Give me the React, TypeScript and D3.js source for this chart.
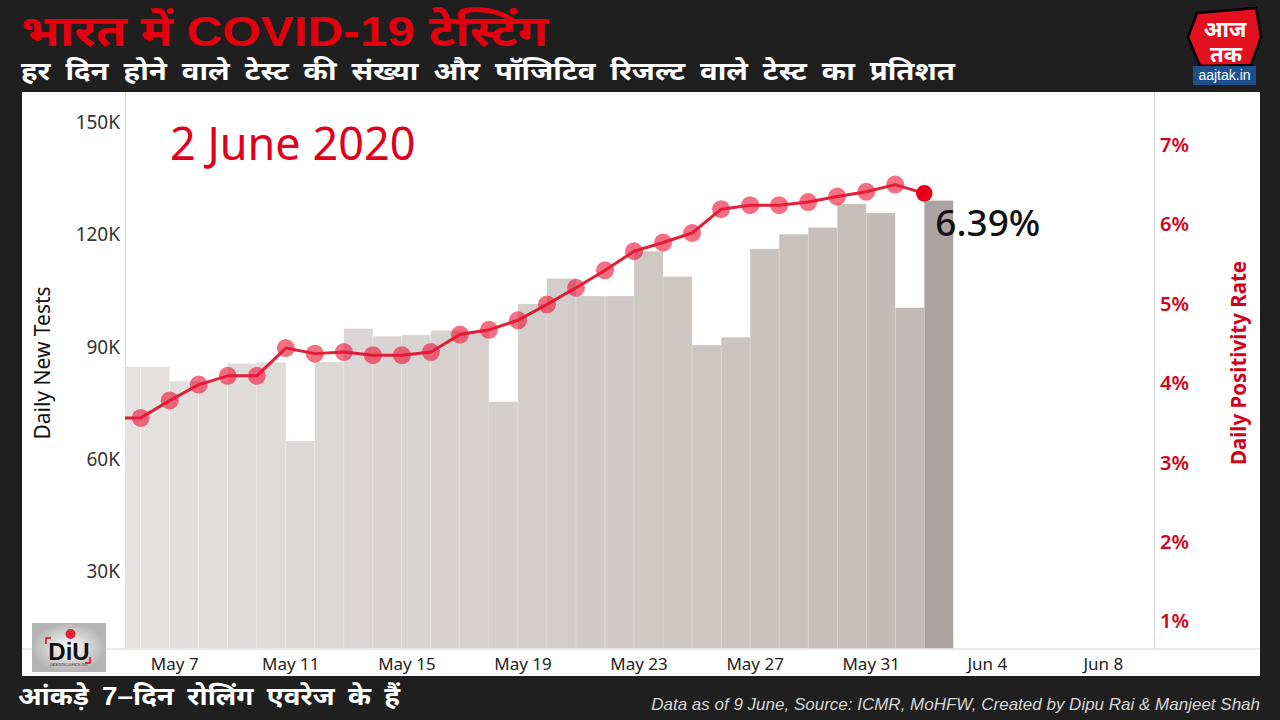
import React, { useRef, useEffect } from 'react';
import * as d3 from 'd3';

// daily figures, May 5 .. Jun 2 2020
const days = [
  '2020-05-05', '2020-05-06', '2020-05-07', '2020-05-08', '2020-05-09', '2020-05-10',
  '2020-05-11', '2020-05-12', '2020-05-13', '2020-05-14', '2020-05-15', '2020-05-16',
  '2020-05-17', '2020-05-18', '2020-05-19', '2020-05-20', '2020-05-21', '2020-05-22',
  '2020-05-23', '2020-05-24', '2020-05-25', '2020-05-26', '2020-05-27', '2020-05-28',
  '2020-05-29', '2020-05-30', '2020-05-31', '2020-06-01', '2020-06-02',
];
const dailyTests = [
  84700, 84700, 80900, 80900, 85600, 85900, 64900, 86000, 94900, 92900,
  93200, 94400, 94400, 75400, 101500, 108300, 103600, 103600, 115600, 108800,
  90500, 92600, 116200, 120100, 121900, 128200, 125800, 100500, 129100,
];
const positivity = [
  3.56, 3.56, 3.78, 3.98, 4.09, 4.09, 4.44, 4.37, 4.39, 4.35,
  4.35, 4.39, 4.61, 4.67, 4.79, 4.99, 5.2, 5.42, 5.66, 5.77,
  5.89, 6.19, 6.24, 6.24, 6.28, 6.35, 6.41, 6.5, 6.39,
];
const testTicks = [30000, 60000, 90000, 120000, 150000];
const rateTicks = [1, 2, 3, 4, 5, 6, 7];
const dateTicks = ['2020-05-07', '2020-05-11', '2020-05-15', '2020-05-19', '2020-05-23', '2020-05-27', '2020-05-31', '2020-06-04', '2020-06-08'];

const parse = d3.timeParse('%Y-%m-%d');
const fmtTick = d3.timeFormat('%b %-d');

const W = 1280;
const H = 720;
const plot = { left: 125, right: 1154, top: 92, bottom: 648.5 };
const RED = '#e0001b';
const AXIS_FONT = "'Noto Sans', 'Open Sans', sans-serif";
const HINDI_FONT = "'Liberation Sans', 'Noto Sans', sans-serif";

export default function App() {
  const svgEl = useRef(null);

  useEffect(() => {
    const svg = d3.select(svgEl.current);
    svg.selectAll('*').remove();

    const data = days.map((d, i) => ({ date: parse(d), tests: dailyTests[i], rate: positivity[i] }));

    const x = d3
      .scaleTime()
      .domain([new Date(2020, 4, 5, 11), new Date(2020, 5, 9, 22)])
      .range([plot.left, plot.right]);
    const yTests = d3.scaleLinear().domain([9480, 158080]).range([plot.bottom, plot.top]);
    const yRate = d3.scaleLinear().domain([0.654, 7.667]).range([plot.bottom, plot.top]);
    const barColor = d3
      .scaleTime()
      .domain([data[0].date, data[data.length - 2].date])
      .range(['#e5e2e1', '#c3bbb7'])
      .interpolate(d3.interpolateRgb);

    // background + white panel
    svg.append('rect').attr('width', W).attr('height', H).attr('fill', '#1f1f1f');
    svg.append('rect').attr('x', 22).attr('y', 92).attr('width', 1238).attr('height', 584).attr('fill', '#fff');

    const defs = svg.append('defs');
    defs.append('clipPath').attr('id', 'plotClip')
      .append('rect')
      .attr('x', plot.left).attr('y', plot.top)
      .attr('width', plot.right - plot.left).attr('height', plot.bottom - plot.top);
    const grad = defs.append('radialGradient').attr('id', 'diuGrad');
    grad.append('stop').attr('offset', '0%').attr('stop-color', '#ffffff');
    grad.append('stop').attr('offset', '100%').attr('stop-color', '#b4b4b4');

    // pane separators
    const sep = svg.append('g').attr('stroke', '#d6d6d6').attr('stroke-width', 1);
    sep.append('line').attr('x1', plot.left + 0.5).attr('x2', plot.left + 0.5).attr('y1', plot.top).attr('y2', plot.bottom);
    sep.append('line').attr('x1', plot.right + 0.5).attr('x2', plot.right + 0.5).attr('y1', plot.top).attr('y2', plot.bottom);
    sep.append('line').attr('x1', 22).attr('x2', 1260).attr('y1', plot.bottom + 0.5).attr('y2', plot.bottom + 0.5);

    const chart = svg.append('g').attr('clip-path', 'url(#plotClip)');

    // bars: each day spans from its date to the next day
    chart
      .selectAll('rect.bar')
      .data(data)
      .enter()
      .append('rect')
      .attr('class', 'bar')
      .attr('x', (d) => x(d.date))
      .attr('width', (d) => x(d3.timeDay.offset(d.date, 1)) - x(d.date))
      .attr('y', (d) => yTests(d.tests))
      .attr('height', (d) => plot.bottom - yTests(d.tests))
      .attr('fill', (d, i) => (i === data.length - 1 ? '#aaa3a2' : barColor(d.date)))
      .attr('stroke', '#ffffff')
      .attr('stroke-opacity', 0.35)
      .attr('stroke-width', 0.6);

    // positivity line
    const line = d3
      .line()
      .x((d) => x(d.date))
      .y((d) => yRate(d.rate));
    chart
      .append('path')
      .datum(data)
      .attr('d', line)
      .attr('fill', 'none')
      .attr('stroke', '#dc0a20')
      .attr('stroke-width', 3)
      .attr('stroke-opacity', 0.9)
      .attr('stroke-linejoin', 'round');

    chart
      .selectAll('circle.dot')
      .data(data.slice(0, -1))
      .enter()
      .append('circle')
      .attr('class', 'dot')
      .attr('cx', (d) => x(d.date))
      .attr('cy', (d) => yRate(d.rate))
      .attr('r', 9)
      .attr('fill', '#ee1739')
      .attr('fill-opacity', 0.62);

    const last = data[data.length - 1];
    chart
      .append('circle')
      .attr('cx', x(last.date))
      .attr('cy', yRate(last.rate))
      .attr('r', 8.3)
      .attr('fill', '#e6001a');

    svg
      .append('text')
      .attr('x', x(last.date) + 11)
      .attr('y', yRate(last.rate) + 43)
      .attr('font-family', AXIS_FONT)
      .attr('font-size', 37)
      .attr('font-weight', 500)
      .attr('fill', '#111')
      .text(`${last.rate.toFixed(2)}%`);

    svg
      .append('text')
      .attr('x', 170)
      .attr('y', 160)
      .attr('font-family', AXIS_FONT)
      .attr('font-size', 45)
      .attr('fill', RED)
      .text('2 June 2020');

    // left axis
    svg
      .append('g')
      .selectAll('text')
      .data(testTicks)
      .enter()
      .append('text')
      .attr('x', 120)
      .attr('y', (d) => yTests(d))
      .attr('dy', '0.36em')
      .attr('text-anchor', 'end')
      .attr('font-family', AXIS_FONT)
      .attr('font-size', 19)
      .attr('fill', '#333')
      .text((d) => `${d / 1000}K`);

    svg
      .append('text')
      .attr('transform', 'translate(50,363) rotate(-90)')
      .attr('text-anchor', 'middle')
      .attr('font-family', AXIS_FONT)
      .attr('font-size', 21)
      .attr('fill', '#111')
      .text('Daily New Tests');

    // right axis
    svg
      .append('g')
      .selectAll('text')
      .data(rateTicks)
      .enter()
      .append('text')
      .attr('x', 1160)
      .attr('y', (d) => yRate(d))
      .attr('dy', '0.36em')
      .attr('font-family', AXIS_FONT)
      .attr('font-size', 20)
      .attr('font-weight', 600)
      .attr('fill', '#d0021b')
      .text((d) => `${d}%`);

    svg
      .append('text')
      .attr('transform', 'translate(1246,363) rotate(-90)')
      .attr('text-anchor', 'middle')
      .attr('font-family', AXIS_FONT)
      .attr('font-size', 20.5)
      .attr('font-weight', 700)
      .attr('fill', '#d0021b')
      .text('Daily Positivity Rate');

    // date axis
    svg
      .append('g')
      .selectAll('text')
      .data(dateTicks.map(parse))
      .enter()
      .append('text')
      .attr('x', (d) => x(d) + 5)
      .attr('y', 664)
      .attr('dy', '0.36em')
      .attr('text-anchor', 'middle')
      .attr('font-family', AXIS_FONT)
      .attr('font-size', 17)
      .attr('fill', '#222')
      .text((d) => fmtTick(d));

    // DiU logo
    const diu = svg.append('g');
    diu.append('rect').attr('x', 32).attr('y', 623).attr('width', 74).attr('height', 49).attr('fill', 'url(#diuGrad)');
    diu.append('text').attr('x', 69).attr('y', 660).attr('text-anchor', 'middle')
      .attr('font-family', "'Liberation Sans', sans-serif").attr('font-weight', 700).attr('font-size', 24).attr('fill', '#111')
      .text('DiU');
    diu.append('circle').attr('cx', 70.5).attr('cy', 634).attr('r', 5).attr('fill', '#e0243a');
    diu.append('path').attr('d', 'M46,644 v-6 h5 M90,657 v6 h-5').attr('fill', 'none').attr('stroke', RED).attr('stroke-width', 1.5);
    diu.append('text').attr('x', 69).attr('y', 666).attr('text-anchor', 'middle')
      .attr('font-family', "'Liberation Sans', sans-serif").attr('font-size', 3).attr('fill', '#333')
      .text('DATA INTELLIGENCE UNIT');

    // titles
    svg.append('text').attr('x', 21).attr('y', 46)
      .attr('font-family', HINDI_FONT).attr('font-weight', 700).attr('font-size', 43).attr('fill', '#e2000f')
      .attr('textLength', 527).attr('lengthAdjust', 'spacingAndGlyphs')
      .text('भारत में COVID-19 टेस्टिंग');
    svg.append('text').attr('x', 21).attr('y', 80)
      .attr('font-family', HINDI_FONT).attr('font-weight', 700).attr('font-size', 26).attr('fill', '#fff')
      .attr('word-spacing', 6)
      .attr('textLength', 934).attr('lengthAdjust', 'spacingAndGlyphs')
      .text('हर दिन होने वाले टेस्ट की संख्या और पॉजिटिव रिजल्ट वाले टेस्ट का प्रतिशत');
    svg.append('text').attr('x', 18).attr('y', 705)
      .attr('font-family', HINDI_FONT).attr('font-weight', 700).attr('font-size', 25).attr('fill', '#fff')
      .attr('word-spacing', 5)
      .attr('textLength', 382).attr('lengthAdjust', 'spacingAndGlyphs')
      .text('आंकड़े 7–दिन रोलिंग एवरेज के हैं');
    svg.append('text').attr('x', 1260).attr('y', 710).attr('text-anchor', 'end')
      .attr('font-family', "'Liberation Sans', sans-serif").attr('font-style', 'italic').attr('font-size', 17).attr('fill', '#d6d6d6')
      .text('Data as of 9 June, Source: ICMR, MoHFW, Created by Dipu Rai & Manjeet Shah');

    // aajtak logo
    const logo = svg.append('g');
    logo.append('path')
      .attr('d', 'M1197,13 L1256,8 L1261,37 L1251,65 L1200,66 L1188,37 Z')
      .attr('fill', '#e3101f').attr('stroke', '#000').attr('stroke-width', 2.5).attr('stroke-linejoin', 'round');
    logo.append('text').attr('x', 1225).attr('y', 37).attr('text-anchor', 'middle')
      .attr('font-family', HINDI_FONT).attr('font-weight', 700).attr('font-size', 22).attr('fill', '#fff').text('आज');
    logo.append('text').attr('x', 1226).attr('y', 62).attr('text-anchor', 'middle')
      .attr('font-family', HINDI_FONT).attr('font-weight', 700).attr('font-size', 22).attr('fill', '#fff').text('तक');
    logo.append('rect').attr('x', 1193).attr('y', 66).attr('width', 63).attr('height', 19).attr('fill', '#1d4f8c');
    logo.append('text').attr('x', 1224.5).attr('y', 80).attr('text-anchor', 'middle')
      .attr('font-family', "'Liberation Sans', sans-serif").attr('font-size', 14).attr('fill', '#fff').text('aajtak.in');
  }, []);

  return (
    <div style={{ position: 'absolute', left: 0, top: 0 }}>
      <svg ref={svgEl} width={W} height={H} style={{ display: 'block' }}></svg>
    </div>
  );
}
